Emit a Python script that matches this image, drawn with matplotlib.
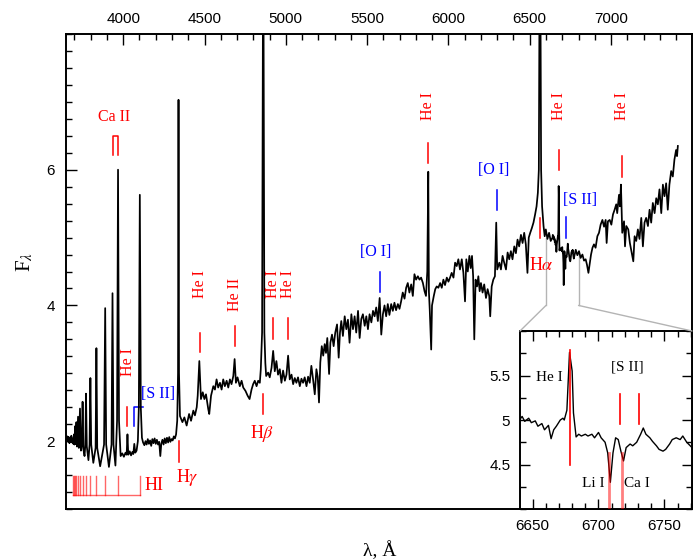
import numpy as np
import matplotlib.pyplot as plt
from matplotlib.patches import ConnectionPatch
from matplotlib.ticker import MultipleLocator, FuncFormatter

plt.rcParams['font.family'] = ['Liberation Serif', 'DejaVu Serif']
plt.rcParams['mathtext.fontset'] = 'stix'

# spectrum (wavelength in A, flux)
wave_blue = [3652, 3657, 3661, 3665, 3669, 3673, 3677, 3681, 3685, 3689, 3693, 3697, 3700,
             3704, 3708, 3712, 3716, 3722, 3727, 3734, 3740, 3746, 3750, 3755, 3762, 3767,
             3771, 3776, 3786, 3793, 3798, 3803, 3816, 3830, 3835, 3840, 3858, 3882, 3889,
             3895, 3912, 3928, 3934, 3940, 3952, 3962, 3968, 3974, 3984, 3994, 4004, 4014,
             4021, 4026, 4031, 4040, 4048, 4056, 4062, 4068, 4074, 4082, 4090, 4096, 4102,
             4108, 4115, 4122, 4130, 4137, 4144, 4151, 4158, 4165, 4172, 4179, 4186, 4193,
             4200, 4207, 4214, 4221, 4228, 4234, 4241, 4248, 4255, 4262, 4269, 4276, 4283,
             4290, 4297, 4304, 4311, 4318, 4325, 4332, 4337, 4340, 4343, 4349]
flux_blue = [2.03, 2.07, 1.99, 2.06, 1.97, 2.05, 1.99, 2.08, 1.98, 2.04, 1.96, 2.10, 1.95,
             2.22, 1.96, 2.28, 1.92, 2.36, 1.90, 2.48, 1.86, 1.95, 2.58, 1.88, 1.78, 1.95,
             2.70, 1.92, 1.72, 1.95, 2.93, 1.95, 1.68, 1.90, 3.37, 1.90, 1.63, 1.95, 3.96,
             1.95, 1.62, 1.95, 4.18, 1.95, 1.64, 2.30, 6.00, 2.30, 1.78, 1.82, 1.77, 1.83,
             1.80, 2.10, 1.80, 1.85, 1.79, 1.84, 1.81, 1.96, 1.83, 1.86, 2.00, 2.50, 5.63,
             2.50, 2.05, 1.98, 1.94, 2.00, 1.95, 2.03, 1.96, 2.01, 1.93, 2.03, 1.97, 2.04,
             1.96, 2.02, 1.95, 1.99, 1.78, 1.96, 2.02, 1.95, 2.04, 1.97, 2.05, 1.98, 2.06,
             1.99, 2.03, 2.01, 2.07, 2.04, 2.10, 2.30, 3.00, 7.03, 3.00, 2.37]

wave_mid = [4364, 4376, 4390, 4405, 4417, 4431, 4441, 4452, 4458, 4468, 4478, 4489, 4499,
            4509, 4523, 4529, 4540, 4554, 4564, 4574, 4584, 4595, 4605, 4615, 4625, 4636,
            4646, 4656, 4666, 4677, 4685, 4693, 4703, 4717, 4728, 4738, 4752, 4765, 4777,
            4789, 4799, 4809, 4820, 4830, 4840, 4846, 4854, 4861, 4868, 4874, 4879, 4891,
            4901, 4912, 4922, 4932, 4942, 4952, 4963, 4973, 4983, 4994, 5004, 5014, 5024,
            5035, 5045, 5055, 5065, 5075, 5086, 5096, 5106, 5116, 5127, 5137, 5147, 5157,
            5167, 5178, 5188, 5196, 5204, 5212, 5221, 5230, 5239, 5247, 5255, 5266, 5274,
            5284, 5294, 5304, 5315, 5325, 5333, 5341, 5351, 5362, 5372, 5382, 5392, 5403,
            5413, 5423, 5433, 5444, 5454, 5464, 5474, 5485, 5495, 5505, 5515, 5526, 5536,
            5546, 5556, 5566, 5577, 5587, 5597, 5607, 5617, 5627, 5637, 5648, 5658, 5668,
            5678, 5689, 5699, 5709, 5719, 5730, 5740, 5750, 5760, 5771, 5781, 5791, 5801,
            5812, 5822, 5832, 5843, 5853, 5862, 5870, 5876, 5880, 5885, 5890, 5894, 5899]
flux_mid = [2.28, 2.35, 2.23, 2.40, 2.30, 2.45, 2.38, 2.50, 2.67, 3.18, 2.62, 2.72, 2.62,
            2.69, 2.47, 2.40, 2.67, 2.81, 2.76, 2.91, 2.79, 2.86, 2.76, 2.91, 2.81, 2.89,
            2.79, 2.91, 2.84, 2.96, 3.21, 2.86, 2.94, 2.81, 2.89, 2.79, 2.74, 2.67, 2.62,
            2.76, 2.84, 2.89, 2.81, 2.89, 2.86, 3.06, 3.60, 10.0, 3.60, 3.15, 2.96, 3.01,
            2.94, 3.08, 3.33, 3.03, 3.18, 2.98, 3.06, 2.86, 3.04, 2.89, 2.98, 3.26, 2.91,
            2.98, 2.84, 2.93, 2.86, 2.94, 2.81, 2.92, 2.86, 2.94, 2.81, 2.95, 2.86, 3.11,
            2.92, 2.69, 3.06, 2.95, 2.57, 3.16, 3.40, 3.26, 3.43, 3.30, 3.52, 2.99, 3.45,
            3.57, 3.40, 3.60, 3.72, 3.23, 3.60, 3.77, 3.55, 3.84, 3.65, 3.79, 3.45, 3.87,
            3.65, 3.84, 3.60, 3.92, 3.52, 3.80, 3.87, 3.70, 3.84, 3.65, 3.87, 3.75, 3.92,
            3.84, 3.97, 3.77, 4.11, 3.57, 3.87, 4.00, 3.84, 4.02, 3.86, 4.02, 3.92, 4.04,
            3.93, 4.02, 3.95, 4.06, 4.19, 4.10, 4.26, 4.33, 4.19, 4.31, 4.14, 4.46, 4.38,
            4.43, 4.38, 4.41, 4.33, 4.21, 4.14, 4.50, 5.97, 4.20, 3.94, 3.60, 3.35, 4.00]

wave_red = [5910, 5919, 5928, 5938, 5949, 5959, 5969, 5979, 5990, 6000, 6010, 6020, 6031,
            6041, 6051, 6061, 6071, 6082, 6092, 6102, 6110, 6119, 6129, 6137, 6145, 6152,
            6159, 6167, 6176, 6184, 6192, 6200, 6210, 6220, 6231, 6241, 6251, 6257, 6266,
            6276, 6286, 6294, 6300, 6313, 6323, 6333, 6343, 6354, 6364, 6374, 6384, 6394,
            6405, 6415, 6425, 6435, 6446, 6456, 6466, 6476, 6486, 6494, 6503, 6513, 6523,
            6533, 6542, 6550, 6556, 6560, 6563, 6566, 6570, 6576, 6585, 6592, 6599, 6609,
            6619, 6629]
flux_red = [4.14, 4.24, 4.28, 4.26, 4.33, 4.26, 4.38, 4.30, 4.41, 4.35, 4.41, 4.48, 4.41,
            4.63, 4.58, 4.68, 4.53, 4.68, 4.48, 4.06, 4.68, 4.50, 4.73, 4.55, 4.73, 4.43,
            3.50, 4.38, 4.28, 4.43, 4.21, 4.33, 4.19, 4.31, 4.11, 4.24, 4.14, 3.84, 4.28,
            4.38, 4.43, 5.22, 4.53, 4.63, 4.53, 4.73, 4.63, 4.53, 4.78, 4.68, 4.80, 4.68,
            4.87, 4.77, 4.97, 4.87, 5.04, 4.92, 5.07, 4.90, 4.48, 5.00, 5.07, 5.14, 5.22,
            5.34, 5.46, 5.66, 6.00, 8.50, 20.0, 8.50, 6.00, 5.46, 5.17, 5.02, 5.12, 4.98,
            5.07, 4.95]

# region shown in the inset (finer sampling)
wave_zoom = [6640, 6642, 6644, 6647, 6649, 6652, 6654, 6657, 6659, 6662, 6664, 6666, 6668,
             6671, 6673, 6674, 6676, 6678, 6680, 6681, 6683, 6685, 6687, 6690, 6692, 6695,
             6697, 6700, 6702, 6705, 6707, 6709, 6711, 6713, 6715, 6717, 6719, 6721, 6724,
             6726, 6729, 6732, 6734, 6736, 6739, 6741, 6744, 6746, 6749, 6751, 6754, 6756,
             6759, 6762, 6764, 6767, 6771]
flux_zoom = [5.00, 5.04, 4.985, 5.02, 4.97, 4.99, 4.93, 4.96, 4.89, 4.94, 4.79, 4.89, 4.93,
             5.00, 5.02, 5.00, 5.11, 5.76, 5.55, 5.08, 4.81, 4.84, 4.82, 4.84, 4.82, 4.84,
             4.80, 4.86, 4.80, 4.75, 4.63, 4.30, 4.63, 4.80, 4.78, 4.65, 4.54, 4.69, 4.73,
             4.71, 4.75, 4.84, 4.91, 4.84, 4.80, 4.76, 4.71, 4.67, 4.65, 4.67, 4.73, 4.78,
             4.80, 4.78, 4.82, 4.75, 4.69]

wave_end = [6783, 6793, 6803, 6813, 6824, 6834, 6844, 6852, 6861, 6869, 6877, 6886, 6895,
            6905, 6916, 6926, 6936, 6947, 6957, 6967, 6973, 6981, 6992, 7002, 7012, 7022,
            7032, 7038, 7049, 7055, 7061, 7069, 7080, 7086, 7094, 7106, 7116, 7127, 7137,
            7145, 7155, 7165, 7175, 7186, 7196, 7206, 7216, 7227, 7237, 7247, 7257, 7268,
            7278, 7288, 7298, 7309, 7319, 7329, 7339, 7349, 7359, 7370, 7380, 7390, 7400,
            7406, 7411]
flux_end = [4.82, 4.74, 4.80, 4.70, 4.75, 4.66, 4.68, 4.60, 4.48, 4.62, 4.75, 4.85, 4.90,
            4.85, 5.02, 5.07, 5.19, 5.26, 5.16, 5.26, 4.92, 5.24, 5.26, 5.19, 5.34, 5.41,
            5.49, 5.36, 5.63, 5.46, 5.78, 5.07, 5.24, 4.87, 5.17, 5.12, 4.92, 4.78, 4.65,
            5.02, 4.95, 5.12, 4.98, 5.29, 4.87, 5.22, 5.29, 5.17, 5.41, 5.22, 5.51, 5.36,
            5.58, 5.49, 5.71, 5.36, 5.78, 5.61, 5.80, 5.41, 5.78, 5.98, 5.90, 6.15, 6.29,
            6.20, 6.35]

wave = np.array(wave_blue + wave_mid + wave_red + wave_zoom + wave_end, dtype=float)
flux = np.array(flux_blue + flux_mid + flux_red + flux_zoom + flux_end)

# Balmer series positions for the HI comb
hi_series = [3691.6, 3697.2, 3703.9, 3712.0, 3721.9, 3734.4, 3750.2, 3770.6, 3797.9,
             3835.4, 3889.1, 3970.1, 4101.7]

fig = plt.figure(figsize=(7, 5.6), dpi=100)
ax = fig.add_axes([66/700, 51/560, 626/700, 475/560])

# zoom box sides (drawn under the spectrum)
ax.plot([6600, 6600], [4.0, 5.0], color='#b4b4b4', lw=1, zorder=1)
ax.plot([6800, 6800], [4.0, 4.78], color='#b4b4b4', lw=1, zorder=1)

ax.plot(wave, flux, color='k', lw=1.25, zorder=3)
ax.set_xlim(3648, 7498)
ax.set_ylim(1, 8)

ax.xaxis.set_major_locator(MultipleLocator(500))
ax.xaxis.set_minor_locator(MultipleLocator(100))
ax.set_yticks([2, 4, 6])
ax.yaxis.set_minor_locator(MultipleLocator(0.25))
ax.tick_params(which='both', direction='in', top=True, bottom=False, labeltop=True,
               labelbottom=False, left=True, right=False, labelsize=11,
               labelfontfamily='Liberation Sans')
ax.tick_params(which='major', length=8, width=1, pad=6)
ax.tick_params(which='minor', length=4, width=1)
ax.tick_params(axis='y', pad=8)
for s in ax.spines.values():
    s.set_linewidth(1.4)

fig.text(25/700, 1 - 262/560, r'F$_\lambda$', rotation=90, ha='center', va='center',
         fontsize=15)
fig.text(380/700, 1 - 551/560, 'λ, Å', ha='center', va='center', fontsize=14)


def mark(x, y0, y1, color='red'):
    ax.plot([x, x], [y0, y1], color=color, lw=1.1, zorder=2)


def vlabel(x, y, s, color='red'):
    ax.text(x, y, s, rotation=90, ha='center', va='center', color=color, fontsize=11.5)


# red identifications
mark(4026, 2.22, 2.50); vlabel(4028, 3.16, 'He I')
mark(4471, 3.31, 3.60); vlabel(4471, 4.32, 'He I')
mark(4686, 3.40, 3.69); vlabel(4686, 4.16, 'He II')
mark(4922, 3.50, 3.81); vlabel(4922, 4.32, 'He I')
mark(5016, 3.50, 3.81); vlabel(5016, 4.32, 'He I')
mark(5876, 6.10, 6.40); vlabel(5876, 6.94, 'He I')
mark(6678, 6.00, 6.29); vlabel(6678, 6.94, 'He I')
mark(7065, 5.90, 6.20); vlabel(7065, 6.94, 'He I')
mark(4340, 1.70, 2.00)
ax.text(4392, 1.47, r'H$\gamma$', color='red', fontsize=13, ha='center', va='center')
mark(4861, 2.40, 2.70)
ax.text(4856, 2.12, r'H$\beta$', color='red', fontsize=13, ha='center', va='center')
mark(6563, 5.00, 5.29)
ax.text(6573, 4.59, r'H$\alpha$', color='red', fontsize=13, ha='center', va='center')

# Ca II bracket
ax.plot([3934, 3934, 3968, 3968], [6.21, 6.50, 6.50, 6.21], color='red', lw=1.1)
ax.text(3943, 6.78, 'Ca II', color='red', fontsize=11.5, ha='center', va='center')

# blue forbidden lines
mark(5577, 4.20, 4.50, 'blue')
ax.text(5552, 4.79, '[O I]', color='blue', fontsize=11.5, ha='center', va='center')
mark(6300, 5.40, 5.70, 'blue')
ax.text(6280, 6.00, '[O I]', color='blue', fontsize=11.5, ha='center', va='center')
mark(6725, 5.00, 5.31, 'blue')
ax.text(6808, 5.56, '[S II]', color='blue', fontsize=11.5, ha='center', va='center')
ax.plot([4068, 4068, 4124], [2.22, 2.50, 2.50], color='blue', lw=1.1)
ax.text(4216, 2.70, '[S II]', color='blue', fontsize=11.5, ha='center', va='center')

# HI comb
for w in hi_series:
    ax.plot([w, w], [1.21, 1.49], color='red', lw=1, alpha=0.6)
ax.plot([hi_series[0], hi_series[-1]], [1.21, 1.21], color='red', lw=1, alpha=0.6)
ax.text(4128, 1.34, 'HI', color='red', fontsize=13, ha='left', va='center')

# inset
axi = fig.add_axes([520/700, 51/560, 172/700, 178/560])
axi.plot(wave, flux, color='k', lw=1.0, zorder=3)
axi.set_xlim(6640.4, 6771)
axi.set_ylim(4.0, 6.0)
axi.xaxis.set_major_locator(MultipleLocator(50))
axi.xaxis.set_minor_locator(MultipleLocator(10))
axi.set_yticks([4.5, 5.0, 5.5])
axi.yaxis.set_minor_locator(MultipleLocator(0.25))
axi.yaxis.set_major_formatter(FuncFormatter(lambda v, p: '%g' % v))
axi.tick_params(which='both', direction='in', top=True, right=True, labelsize=11,
                labelfontfamily='Liberation Sans')
axi.tick_params(which='major', length=7, width=1, pad=7)
axi.tick_params(which='minor', length=4, width=1)
for s in axi.spines.values():
    s.set_linewidth(1.4)

axi.plot([6678, 6678], [4.50, 5.79], color='red', lw=1.2, zorder=4)
axi.plot([6716.5, 6716.5], [4.95, 5.29], color='red', lw=1.2)
axi.plot([6731, 6731], [4.95, 5.29], color='red', lw=1.2)
axi.plot([6708, 6708], [4.0, 4.63], color='red', lw=2, alpha=0.5, zorder=4)
axi.plot([6718, 6718], [4.0, 4.63], color='red', lw=2, alpha=0.5, zorder=4)
axi.text(6663, 5.48, 'He I', fontsize=11, ha='center', va='center')
axi.text(6722, 5.59, '[S II]', fontsize=11, ha='center', va='center')
axi.text(6696, 4.29, 'Li I', fontsize=11, ha='center', va='center')
axi.text(6729.5, 4.29, 'Ca I', fontsize=11, ha='center', va='center')

for xa, xb in [(6600, 0), (6800, 1)]:
    con = ConnectionPatch(xyA=(xa, 4.0), coordsA=ax.transData, xyB=(xb, 1),
                          coordsB=axi.transAxes, color='#b4b4b4', lw=1)
    fig.add_artist(con)

fig.savefig('out.png', dpi=100)
